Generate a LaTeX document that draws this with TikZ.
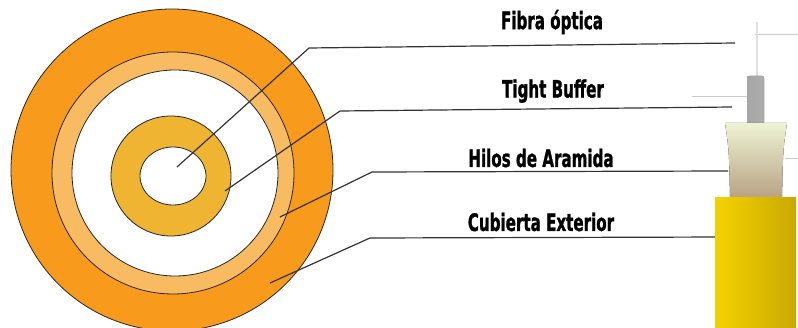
\documentclass[tikz,border=0pt]{standalone}
\usepackage{fontspec}
\newfontfamily\tagfont{DejaVu Sans Condensed}[BoldFeatures = {FakeBold = 1.5}]
\usepackage{tikz}

% jacket and ring colours
\definecolor{jacket}{HTML}{F89A1C}
\definecolor{kevlar}{HTML}{F9BB62}
\definecolor{buffer}{HTML}{EFB532}
\definecolor{cable}{HTML}{F4D200}
\definecolor{cabledark}{HTML}{C9A900}
\definecolor{yarn}{HTML}{EEF2D4}
\definecolor{yarnroot}{HTML}{A08060}

\newcommand{\squeeze}[1]{\scalebox{0.7}[1]{#1}}

\begin{document}
\begin{tikzpicture}[
            x = 1pt, y = -1pt, % one unit per pixel, y downwards
            line join = round,
            ring/.style = {draw = black!85, line width = 0.8pt},
            leader/.style = {draw = black!80, line width = 1.2pt},
            ghost/.style = {draw = black!20, line width = 1pt}
        ]

        \tikzstyle{tag}=[
            font = \tagfont\bfseries\fontsize{24}{24}\selectfont,
            inner sep = 0pt
        ]

        \useasboundingbox (0,0) rectangle (798,328);

        % cross section, outside in
        \filldraw[ring, fill = jacket] (172,170) circle (161);
        \filldraw[ring, fill = kevlar] (173,173) circle (121);
        \filldraw[ring, fill = white] (175,173) circle (103);
        \filldraw[ring, fill = buffer] (171,176) circle (60);
        \filldraw[ring, fill = white] (173,176) ellipse (33 and 29);

        % labels
        \node[tag] (f) at (552,22) {\squeeze{Fibra óptica}};
        \node[tag] (b) at (553,91) {\squeeze{Tight Buffer}};
        \node[tag] (a) at (541,158) {\squeeze{Hilos de Aramida}};
        \node[tag] (j) at (541,222) {\squeeze{Cubierta Exterior}};

        % leader points
        \coordinate (f0) at (177,167);
        \coordinate (f1) at (309,48);
        \coordinate (f2) at (735,43);
        \coordinate (b0) at (225,191);
        \coordinate (b1) at (340,111);
        \coordinate (b2) at (732,107);
        \coordinate (a0) at (280,217);
        \coordinate (a1) at (372,172);
        \coordinate (a2) at (728,171);
        \coordinate (j0) at (270,283);
        \coordinate (j1) at (370,238);
        \coordinate (j2) at (728,237);

        \draw[leader] (f0) -- (f1) -- (f2);
        \draw[leader] (b0) -- (b1) -- (b2);
        \draw[leader] (a0) -- (a1) -- (a2);
        \draw[leader] (j0) -- (j1) -- (j2);

        % stripped cable
        \draw[ghost] (755,35) -- (798,35);
        \draw[ghost] (692,97) -- (748,97);
        \draw[ghost] (785,159) -- (798,159);
        \draw[line width = 2.5pt, black!12] (757,22) -- (757,78);
        \fill[left color = black!35, middle color = black!12, right color = black!32,
              rounded corners = 2pt] (747,124) rectangle (764,76);
        \fill[top color = yarn, middle color = yarn, bottom color = yarnroot!70!yarn]
            (725,123) .. controls (729,150) .. (730,198) -- (782,198)
            .. controls (783,150) .. (787,123) -- cycle;
        \fill[left color = cable, middle color = cable!92!cabledark, right color = cabledark]
            (715,198) rectangle (796,328);

  \end{tikzpicture}
\end{document}
